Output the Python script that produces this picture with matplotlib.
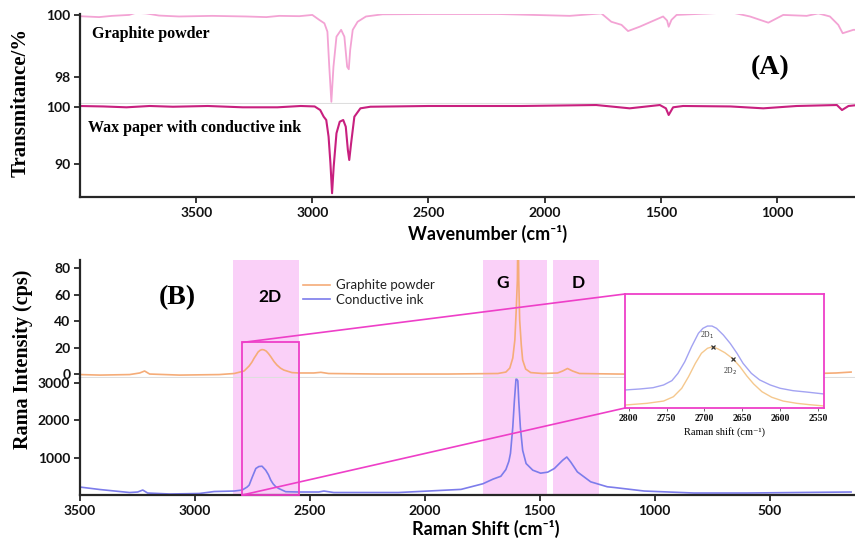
import matplotlib
matplotlib.use('Agg')
import matplotlib.pyplot as plt
from matplotlib.patches import Rectangle, ConnectionPatch
from matplotlib.transforms import blended_transform_factory

# ---------------- data: panel A (FTIR) ----------------
ftir_graphite_x = [4004, 3918, 3862, 3789, 3759, 3716, 3660, 3574, 3431, 3284, 3198, 3142,
                   3056, 3000, 2970, 2948, 2935, 2927, 2918, 2909, 2896, 2876, 2862, 2850,
                   2843, 2837, 2826, 2805, 2769, 2698, 2496, 2200, 1892, 1756, 1713, 1669,
                   1641, 1591, 1490, 1473, 1466, 1454, 1432, 1346, 1231, 1188, 1116, 1037,
                   973, 872, 822, 772, 736, 717, 671, 664]
ftir_graphite_y = [99.96, 99.93, 99.97, 100.00, 100.07, 100.05, 99.98, 99.95, 99.97, 99.95, 99.93, 99.97,
                   99.96, 100.00, 99.84, 99.73, 99.46, 98.33, 97.20, 98.33, 99.30, 99.52, 99.30, 98.33,
                   98.25, 98.87, 99.52, 99.78, 99.95, 100.02, 100.03, 100.03, 99.97, 100.05, 99.78, 99.68,
                   99.48, 99.62, 99.95, 99.82, 99.62, 99.84, 100.00, 100.03, 100.07, 100.07, 99.95, 99.75,
                   100.00, 99.97, 100.05, 99.95, 99.68, 99.41, 99.52, 99.52]

ftir_wax_x = [4004, 3900, 3800, 3700, 3600, 3450, 3300, 3150, 3050, 2990, 2966, 2951, 2940,
              2930, 2922, 2915, 2908, 2896, 2882, 2867, 2856, 2847, 2841, 2833, 2819, 2793,
              2750, 2500, 2100, 1778, 1634, 1504, 1478, 1466, 1447, 1404, 1200, 1059, 915,
              742, 720, 692, 664]
ftir_wax_y = [100.18, 100.10, 99.95, 100.18, 100.05, 100.18, 99.95, 99.95, 100.18, 100.10, 99.47, 98.30, 97.72,
              94.79, 90.12, 84.86, 89.53, 95.39, 97.42, 97.72, 96.54, 92.46, 90.70, 93.63, 98.30, 99.77,
              100.05, 100.18, 100.18, 100.35, 99.77, 100.35, 99.77, 98.60, 99.95, 100.18, 100.10, 99.77, 100.18,
              100.35, 99.47, 100.18, 100.30]

# ---------------- data: panel B (Raman) ----------------
raman_graphite_x = [3500, 3413, 3284, 3240, 3219, 3197, 3067, 2894, 2829, 2786, 2764, 2752,
                    2742, 2733, 2725, 2716, 2708, 2700, 2690, 2680, 2669, 2656, 2643, 2628,
                    2613, 2578, 2548, 2483, 2452, 2418, 2201, 1898, 1682, 1647, 1630, 1617,
                    1608, 1602, 1597, 1594, 1591, 1587, 1580, 1574, 1561, 1539, 1487, 1422,
                    1400, 1379, 1357, 1327, 1162, 816, 383, 210, 145]
raman_graphite_y = [-0.4, -0.8, -0.4, 0.8, 2.3, 0.0, -0.8, -0.4, 0.4, 2.3, 6.1, 9.0,
                    12.1, 14.5, 16.7, 18.0, 18.5, 18.3, 17.4, 15.5, 12.9, 9.5, 6.8, 4.5,
                    3.0, 1.1, 0.8, 0.8, 1.3, 0.4, 0.0, 0.0, 0.4, 1.5, 4.5, 12.1,
                    25.7, 48.4, 71.2, 120.0, 71.2, 40.9, 22.0, 10.6, 3.8, 1.1, 0.4, 0.8,
                    2.3, 4.2, 2.3, 0.4, 0.0, -0.4, 0.0, 0.8, 1.5]

raman_ink_x = [3500, 3413, 3284, 3249, 3227, 3206, 3110, 2981, 2916, 2829, 2794, 2773,
               2764, 2750, 2735, 2722, 2708, 2692, 2680, 2670, 2660, 2648, 2634, 2605,
               2548, 2461, 2439, 2396, 2115, 1842, 1747, 1703, 1669, 1647, 1634, 1627,
               1617, 1610, 1603, 1599, 1595, 1591, 1584, 1574, 1559, 1530, 1496, 1465,
               1436, 1400, 1382, 1365, 1336, 1278, 1206, 1175, 1045, 829, 600, 383, 145]
raman_ink_y = [212, 146, 66, 80, 133, 53, 27, 40, 93, 106, 133, 212,
               265, 485, 708, 760, 769, 663, 540, 398, 300, 220, 170, 88,
               80, 80, 106, 66, 66, 150, 300, 424, 500, 680, 900, 1113,
               1810, 2518, 3093, 3090, 3048, 2518, 1810, 1193, 840, 663, 583, 610,
               708, 928, 1015, 882, 617, 352, 220, 200, 106, 53, 53, 66, 80]

# 2D inset (normalised intensity)
inset_ink_x = [2805, 2785, 2768, 2754, 2743, 2735, 2726, 2717, 2708, 2702, 2696, 2690,
               2684, 2675, 2666, 2657, 2649, 2638, 2627, 2613, 2600, 2583, 2565, 2542]
inset_ink_y = [0.158, 0.167, 0.178, 0.202, 0.240, 0.304, 0.406, 0.538, 0.655, 0.699, 0.719, 0.719,
               0.699, 0.640, 0.567, 0.480, 0.392, 0.304, 0.246, 0.202, 0.173, 0.152, 0.140, 0.123]
inset_gr_x = [2805, 2776, 2754, 2741, 2730, 2721, 2712, 2704, 2696, 2689, 2682, 2673,
              2662, 2653, 2644, 2635, 2624, 2611, 2596, 2578, 2561, 2542]
inset_gr_y = [0.026, 0.041, 0.061, 0.099, 0.173, 0.275, 0.392, 0.480, 0.524, 0.538, 0.518, 0.485,
              0.430, 0.362, 0.281, 0.211, 0.143, 0.094, 0.061, 0.041, 0.029, 0.018]
inset_mark_x = [2689, 2662]
inset_mark_y = [0.538, 0.43]
inset_mark_labels = ['2D$_1$', '2D$_2$']

band_names = ['2D', 'G', 'D']
band_ranges = [(2833, 2548), (1747, 1470), (1444, 1242)]
zoom_x_range = (2794, 2548)
zoom_y_top = 23.9

# ---------------- styling ----------------
PINK_LIGHT = '#f3a3d4'
PINK_DARK = '#c8207f'
ORANGE = '#f5ac78'
BLUE = '#7c7ceb'
ORANGE_IN = '#f5c88e'
BLUE_IN = '#a3a3f2'
SHADE = '#fad0f8'
MAGENTA = '#ee3fc8'
SPINE = '#262626'
DIVIDER = '#dedede'

SANS = ['Lato', 'DejaVu Sans']
SERIF = ['Liberation Serif', 'DejaVu Serif']
plt.rcParams['font.family'] = SANS

W, H = 855, 541
fig = plt.figure(figsize=(W / 100, H / 100), dpi=100)


def box(x0, y0, x1, y1):
    return [x0 / W, 1 - y1 / H, (x1 - x0) / W, (y1 - y0) / H]


axA1 = fig.add_axes(box(80, 14, 855, 104))
axA2 = fig.add_axes(box(80, 104, 855, 197))
axB1 = fig.add_axes(box(80, 260, 855, 378))
axB2 = fig.add_axes(box(80, 378, 855, 495))


def style(ax, top_ax):
    for s in ['top', 'right']:
        ax.spines[s].set_visible(False)
    ax.spines['left'].set_color(SPINE)
    ax.spines['left'].set_linewidth(1.6)
    ax.tick_params(axis='both', length=4, width=1.3, color=SPINE, pad=3,
                   labelsize=10, labelcolor='#111111')
    if top_ax:
        ax.spines['bottom'].set_color(DIVIDER)
        ax.spines['bottom'].set_linewidth(1.5)
        ax.set_xticks([])
    else:
        ax.spines['bottom'].set_color(SPINE)
        ax.spines['bottom'].set_linewidth(1.6)
    for lab in ax.get_xticklabels() + ax.get_yticklabels():
        lab.set_fontweight('bold')


# ---- Panel A ----
axA1.plot(ftir_graphite_x, ftir_graphite_y, color=PINK_LIGHT, lw=1.3)
axA2.plot(ftir_wax_x, ftir_wax_y, color=PINK_DARK, lw=1.5)
for ax in (axA1, axA2):
    ax.set_xlim(4000, 664)
axA1.set_ylim(97.13, 100.03)
axA2.set_ylim(84.2, 100.53)
axA1.set_yticks([98, 100])
axA2.set_yticks([90, 100])
axA2.set_xticks([3500, 3000, 2500, 2000, 1500, 1000])
style(axA1, True)
style(axA2, False)

axA1.text(0.0155, 0.778, 'Graphite powder', transform=axA1.transAxes, family=SERIF,
          fontweight='bold', fontsize=11.5, va='center', ha='left')
axA2.text(0.0103, 0.742, 'Wax paper with conductive ink', transform=axA2.transAxes, family=SERIF,
          fontweight='bold', fontsize=11.5, va='center', ha='left')
axA1.text(0.890, 0.40, '(A)', transform=axA1.transAxes, family=SERIF,
          fontweight='bold', fontsize=20, va='center', ha='center')
fig.text(488 / W, 1 - 234 / H, 'Wavenumber (cm⁻¹)', family=SANS, fontweight='bold',
         fontsize=13, ha='center', va='center')
fig.text(21 / W, 1 - 102 / H, 'Transmitance/%', family=SERIF, fontweight='bold',
         fontsize=15, ha='center', va='center', rotation=90)

# ---- Panel B ----
for ax in (axB1, axB2):
    for (a, b) in band_ranges:
        ax.axvspan(a, b, color=SHADE, lw=0, zorder=0)
    ax.set_xlim(3500, 128)
lg, = axB1.plot(raman_graphite_x, raman_graphite_y, color=ORANGE, lw=1.2, zorder=2,
                label='Graphite powder')
li, = axB2.plot(raman_ink_x, raman_ink_y, color=BLUE, lw=1.2, zorder=2,
                label='Conductive ink')
axB1.set_ylim(-3, 86.3)
axB2.set_ylim(0, 3125)
axB1.set_yticks([0, 20, 40, 60, 80])
axB2.set_yticks([1000, 2000, 3000])
axB2.set_xticks([3500, 3000, 2500, 2000, 1500, 1000, 500])
style(axB1, True)
style(axB2, False)

leg = axB1.legend(handles=[lg, li], loc='upper left', bbox_to_anchor=(0.288, 0.836),
                  frameon=False, fontsize=9.5, borderpad=0, borderaxespad=0,
                  handlelength=2.05, handletextpad=0.45, labelspacing=0.2)
for t in leg.get_texts():
    t.set_color('#222222')

tb = blended_transform_factory(axB1.transData, axB1.transAxes)
axB1.text(2675, 0.686, band_names[0], transform=tb, fontweight='bold', fontsize=12.5,
          ha='center', va='center')
axB1.text(1660, 0.805, band_names[1], transform=tb, fontweight='bold', fontsize=12.5,
          ha='center', va='center')
axB1.text(1331, 0.805, band_names[2], transform=tb, fontweight='bold', fontsize=12.5,
          ha='center', va='center')
axB1.text(0.125, 0.678, '(B)', transform=axB1.transAxes, family=SERIF,
          fontweight='bold', fontsize=20, va='center', ha='center')
fig.text(486 / W, 1 - 529 / H, 'Raman Shift (cm⁻¹)', family=SANS, fontweight='bold',
         fontsize=13, ha='center', va='center')
fig.text(23 / W, 1 - 359 / H, 'Rama Intensity (cps)', family=SERIF, fontweight='bold',
         fontsize=14.5, ha='center', va='center', rotation=90)

# ---- inset ----
axIn = fig.add_axes(box(625, 294, 824, 408))
axIn.set_facecolor('white')
axIn.plot(inset_ink_x, inset_ink_y, color=BLUE_IN, lw=1.0)
axIn.plot(inset_gr_x, inset_gr_y, color=ORANGE_IN, lw=1.0)
axIn.plot(inset_mark_x, inset_mark_y, 'x', color='#333333', ms=3, mew=0.9)
axIn.text(inset_mark_x[0] + 8, inset_mark_y[0] + 0.05, inset_mark_labels[0],
          family=SERIF, fontsize=5.5, ha='center', va='bottom', color='#333333')
axIn.text(inset_mark_x[1] + 4, inset_mark_y[1] - 0.06, inset_mark_labels[1],
          family=SERIF, fontsize=5.5, ha='center', va='top', color='#333333')
axIn.set_xlim(2805, 2542)
axIn.set_ylim(0, 1)
axIn.set_yticks([])
axIn.set_xticks([2800, 2750, 2700, 2650, 2600, 2550])
axIn.tick_params(axis='x', length=2, width=0.6, color='#555555', pad=2, labelsize=7,
                 labelcolor='#111111')
for lab in axIn.get_xticklabels():
    lab.set_family(SERIF)
    lab.set_fontweight('bold')
for s in axIn.spines.values():
    s.set_color(MAGENTA)
    s.set_linewidth(1.3)
axIn.set_xlabel('Raman shift (cm⁻¹)', family=SERIF, fontsize=7.5, labelpad=3)

# ---- zoom box and connector lines ----
inv = fig.transFigure.inverted()
p_tl = inv.transform(axB1.transData.transform((zoom_x_range[0], zoom_y_top)))
p_br = inv.transform(axB2.transData.transform((zoom_x_range[1], 0)))
rect = Rectangle((p_tl[0], p_br[1]), p_br[0] - p_tl[0], p_tl[1] - p_br[1],
                 transform=fig.transFigure, fill=False, ec=MAGENTA, lw=1.3, zorder=5)
fig.add_artist(rect)
c1 = ConnectionPatch(xyA=(zoom_x_range[0], zoom_y_top), coordsA='data', axesA=axB1,
                     xyB=(0, 1), coordsB='axes fraction', axesB=axIn,
                     color=MAGENTA, lw=1.2, zorder=5)
c2 = ConnectionPatch(xyA=(zoom_x_range[0], 0), coordsA='data', axesA=axB2,
                     xyB=(0, 0), coordsB='axes fraction', axesB=axIn,
                     color=MAGENTA, lw=1.2, zorder=5)
fig.add_artist(c1)
fig.add_artist(c2)

fig.savefig('out.png', dpi=100)
